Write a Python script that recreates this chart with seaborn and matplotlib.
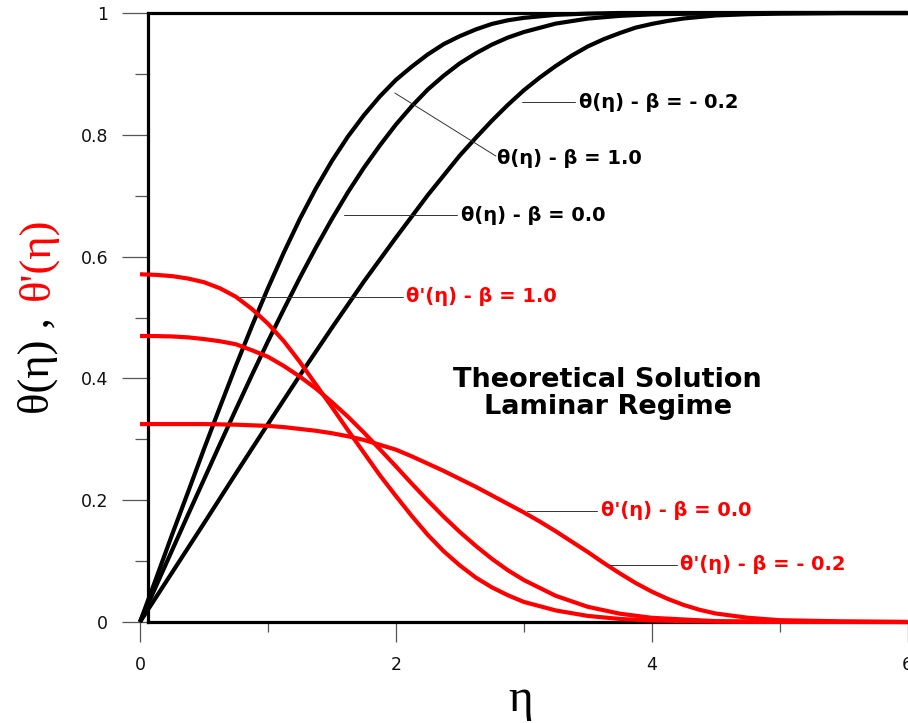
import numpy as np
import pandas as pd
import matplotlib
matplotlib.use("Agg")
import matplotlib.pyplot as plt
import seaborn as sns

# ---------------- data ----------------
eta_b1 = [0, 0.125, 0.25, 0.375, 0.5, 0.625, 0.75, 0.875, 1.0, 1.125, 1.25, 1.375, 1.5, 1.625,
          1.75, 1.875, 2.0, 2.125, 2.25, 2.375, 2.5, 2.625, 2.75, 2.875, 3.0, 3.25, 3.5, 3.75, 4.0, 5.0, 6.0]
theta_b1 = [0, 0.071, 0.143, 0.213, 0.284, 0.353, 0.421, 0.486, 0.548, 0.607, 0.662, 0.712, 0.757, 0.797,
            0.832, 0.863, 0.890, 0.912, 0.932, 0.949, 0.962, 0.973, 0.982, 0.988, 0.992, 0.997, 0.999, 1.0, 1.0, 1.0, 1.0]

eta_b0 = [0, 0.125, 0.25, 0.375, 0.5, 0.625, 0.75, 0.875, 1.0, 1.125, 1.25, 1.375, 1.5, 1.625,
          1.75, 1.875, 2.0, 2.125, 2.25, 2.375, 2.5, 2.625, 2.75, 2.875, 3.0, 3.25, 3.5, 3.75, 4.0, 4.5, 5.0, 6.0]
theta_b0 = [0, 0.0587, 0.1174, 0.176, 0.234, 0.2921, 0.3493, 0.4056, 0.4607, 0.5138, 0.5655, 0.6149, 0.6617, 0.7055,
            0.7458, 0.7825, 0.8167, 0.8471, 0.8744, 0.8972, 0.9174, 0.9338, 0.948, 0.9596, 0.9687, 0.9826, 0.9908,
            0.9953, 0.9978, 0.9995, 1.0, 1.0]

eta_bm = [0, 0.25, 0.5, 0.75, 1.0, 1.25, 1.5, 1.75, 2.0, 2.25, 2.5, 2.625, 2.75, 2.875, 3.0, 3.125, 3.25,
          3.375, 3.5, 3.625, 3.75, 3.875, 4.0, 4.125, 4.25, 4.5, 4.75, 5.0, 5.5, 6.0]
theta_bm = [0, 0.081, 0.162, 0.244, 0.325, 0.405, 0.483, 0.559, 0.631, 0.701, 0.766, 0.795, 0.823, 0.849, 0.873,
            0.894, 0.913, 0.930, 0.945, 0.957, 0.967, 0.976, 0.982, 0.987, 0.991, 0.996, 0.998, 0.999, 1.0, 1.0]

eta_d1 = [0, 0.125, 0.25, 0.375, 0.5, 0.625, 0.75, 0.875, 1.0, 1.125, 1.25, 1.375, 1.5, 1.625,
          1.75, 1.875, 2.0, 2.125, 2.25, 2.375, 2.5, 2.625, 2.75, 2.875, 3.0, 3.25, 3.5, 3.75, 4.0, 4.5, 5.0, 6.0]
dtheta_b1 = [0.571, 0.570, 0.568, 0.564, 0.558, 0.548, 0.534, 0.514, 0.490, 0.461, 0.427, 0.390, 0.353, 0.315,
             0.278, 0.241, 0.207, 0.174, 0.143, 0.116, 0.093, 0.073, 0.057, 0.044, 0.033, 0.019, 0.010, 0.005,
             0.0025, 0.0006, 0.0001, 0.0]

eta_d0 = [0, 0.125, 0.25, 0.375, 0.5, 0.625, 0.75, 0.875, 1.0, 1.125, 1.25, 1.375, 1.5, 1.625,
          1.75, 1.875, 2.0, 2.125, 2.25, 2.375, 2.5, 2.625, 2.75, 2.875, 3.0, 3.25, 3.5, 3.75, 4.0, 4.5, 5.0, 6.0]
dtheta_b0 = [0.4696, 0.4695, 0.4689, 0.4674, 0.4646, 0.461, 0.4561, 0.4462, 0.4356, 0.4203, 0.4029, 0.3834, 0.3611,
             0.3372, 0.3111, 0.2837, 0.2557, 0.2271, 0.1994, 0.1728, 0.1479, 0.125, 0.1039, 0.0851, 0.069, 0.043,
             0.025, 0.0137, 0.0069, 0.0014, 0.0003, 0.0]

eta_dm = [0, 0.25, 0.5, 0.75, 1.0, 1.125, 1.25, 1.375, 1.5, 1.625, 1.75, 1.875, 2.0, 2.125, 2.25, 2.375, 2.5,
          2.625, 2.75, 2.875, 3.0, 3.125, 3.25, 3.375, 3.5, 3.625, 3.75, 3.875, 4.0, 4.125, 4.25, 4.375, 4.5,
          4.75, 5.0, 5.5, 6.0]
dtheta_bm = [0.325, 0.325, 0.325, 0.324, 0.322, 0.320, 0.317, 0.314, 0.310, 0.305, 0.299, 0.291, 0.283, 0.272,
             0.260, 0.248, 0.235, 0.222, 0.208, 0.194, 0.180, 0.165, 0.149, 0.132, 0.115, 0.097, 0.080, 0.064,
             0.050, 0.038, 0.028, 0.020, 0.014, 0.007, 0.003, 0.001, 0.0]

series_names = ["θ β=1.0", "θ β=0.0", "θ β=-0.2", "θ' β=1.0", "θ' β=0.0", "θ' β=-0.2"]
series_eta = [eta_b1, eta_b0, eta_bm, eta_d1, eta_d0, eta_dm]
series_val = [theta_b1, theta_b0, theta_bm, dtheta_b1, dtheta_b0, dtheta_bm]
series_col = ["#000000", "#000000", "#000000", "#ff0000", "#ff0000", "#ff0000"]

x_ticks = [0, 2, 4, 6]
x_tick_labels = ["0", "2", "4", "6"]
y_ticks = [0, 0.2, 0.4, 0.6, 0.8, 1.0]
y_tick_labels = ["0", "0.2", "0.4", "0.6", "0.8", "1"]

labels_theta = ["θ(η) - β = - 0.2", "θ(η) - β = 1.0", "θ(η) - β = 0.0"]
labels_dtheta = ["θ'(η) - β = 1.0", "θ'(η) - β = 0.0", "θ'(η) - β = - 0.2"]

# ---------------- figure ----------------
sns.set_style("ticks")
plt.rcParams["font.family"] = ["DejaVu Sans"]

W, H = 908, 723
fig = plt.figure(figsize=(W / 100, H / 100), dpi=100)
px_l, px_r, px_t, px_b = 140, 907.5, 13, 622
ax = fig.add_axes([px_l / W, 1 - px_b / H, (px_r - px_l) / W, (px_b - px_t) / H])

rows = []
for name, xs, ys in zip(series_names, series_eta, series_val):
    for xv, yv in zip(xs, ys):
        rows.append((name, xv, yv))
df = pd.DataFrame(rows, columns=["series", "eta", "value"])

sns.lineplot(data=df, x="eta", y="value", hue="series", hue_order=series_names,
             palette=dict(zip(series_names, series_col)), estimator=None, sort=False,
             linewidth=3.0, legend=False, ax=ax)
for ln in ax.get_lines():
    ln.set_clip_on(False)
    ln.set_zorder(3)
    ln.set_solid_capstyle("butt")
    ln.set_solid_joinstyle("round")

ax.set_xlim(0, 6)
ax.set_ylim(0, 1)
ax.set_xlabel("")
ax.set_ylabel("")

x_left_frame = 8 / 128.0  # frame starts slightly right of eta = 0
for s in ["left", "top", "bottom"]:
    ax.spines[s].set_visible(True)
    ax.spines[s].set_color("black")
    ax.spines[s].set_linewidth(2.3)
ax.spines["right"].set_visible(False)
ax.spines["left"].set_position(("data", x_left_frame))
ax.spines["top"].set_bounds(x_left_frame, 6)
ax.spines["bottom"].set_bounds(x_left_frame, 6)

ax.set_xticks(x_ticks)
ax.set_xticklabels(x_tick_labels)
ax.set_xticks([1, 3, 5], minor=True)
ax.set_yticks(y_ticks)
ax.set_yticklabels(y_tick_labels)
ax.set_yticks([0.1, 0.3, 0.5, 0.7, 0.9], minor=True)

ax.tick_params(axis="y", which="major", length=18.7, width=0.9, color="#555555",
               direction="out", pad=10, labelsize=12.5, labelcolor="#111111")
ax.tick_params(axis="y", which="minor", length=9.4, width=0.9, color="#555555", direction="out")
ax.tick_params(axis="x", which="major", length=14.4, width=0.9, color="#555555",
               direction="out", pad=10, labelsize=12.5, labelcolor="#111111")
ax.tick_params(axis="x", which="minor", length=7.2, width=0.9, color="#555555", direction="out")

# ---------------- annotations ----------------
def px2d(px, py):
    return (px - 140) / 128.0, (622 - py) / 609.0

def note(p0, p1, ptext, text, color):
    x0, y0 = px2d(*p0)
    x1, y1 = px2d(*p1)
    ax.plot([x0, x1], [y0, y1], color="#333333", lw=0.7, clip_on=False, zorder=4)
    tx, ty = px2d(*ptext)
    ax.text(tx, ty, text, color=color, fontsize=14, fontweight="bold",
            ha="left", va="center", zorder=5)

note((522, 102), (575, 102), (579, 102), labels_theta[0], "black")
note((395, 93), (496, 156), (497, 158), labels_theta[1], "black")
note((344, 215), (457, 215), (461, 215), labels_theta[2], "black")
note((240, 297), (403, 297), (406, 296), labels_dtheta[0], "#ff0000")
note((527, 511), (597, 511), (601, 510), labels_dtheta[1], "#ff0000")
note((610, 565), (677, 565), (680, 565), labels_dtheta[2], "#ff0000")

cx, cy = px2d(608, 393)
ax.text(cx, cy, "Theoretical Solution\nLaminar Regime", fontsize=19.5, fontweight="bold",
        ha="center", va="center", multialignment="center", linespacing=1.05, color="black")

# axis labels
fig.text(521 / W, 1 - 711 / H, "η", fontsize=34, family=["Liberation Serif"],
         ha="center", va="baseline", color="black")
fig.text(38 / W, 1 - 366 / H, "θ(η) ,", fontsize=32, family=["Liberation Serif"],
         rotation=90, ha="center", va="center", color="black")
fig.text(38 / W, 1 - 259 / H, "θ'(η)", fontsize=32, family=["Liberation Serif"],
         rotation=90, ha="center", va="center", color="#ff0000")

fig.savefig("out.png", dpi=100)
